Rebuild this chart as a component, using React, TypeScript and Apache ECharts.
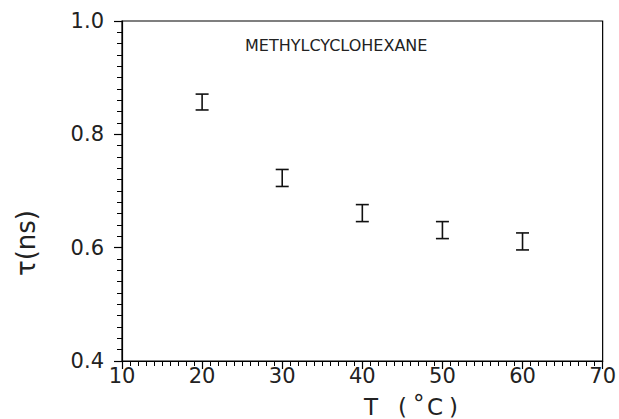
import React, { useEffect, useRef } from "react";
import * as echarts from "echarts";

const temps = [20, 30, 40, 50, 60];
const tau = [0.857, 0.723, 0.661, 0.631, 0.611];
const err = [0.014, 0.015, 0.015, 0.015, 0.015];
const title = "METHYLCYCLOHEXANE";

export default function App() {
  const ref = useRef<HTMLDivElement>(null);
  useEffect(() => {
    if (!ref.current) return;
    const chart = echarts.init(ref.current, null, { renderer: "svg" });
    const data = temps.map((t, i) => [t, tau[i], tau[i] - err[i], tau[i] + err[i]]);
    const font = "DejaVu Sans";
    const ink = "#222";
    chart.setOption({
      animation: false,
      backgroundColor: "#fff",
      grid: {
        left: 122, right: 13, top: 21, bottom: 58,
        show: true, borderColor: "#000", borderWidth: 1.2, backgroundColor: "transparent",
      },
      xAxis: {
        type: "value", min: 10, max: 70, interval: 10,
        axisLine: { lineStyle: { color: "#000", width: 1.2 } },
        axisTick: { show: true, length: 8, lineStyle: { color: "#000", width: 1.2 } },
        minorTick: { show: true, splitNumber: 10, length: 5, lineStyle: { color: "#000", width: 1 } },
        splitLine: { show: false },
        axisLabel: { color: ink, fontFamily: font, fontSize: 21, margin: 4 },
      },
      yAxis: {
        type: "value", min: 0.4, max: 1.0, interval: 0.2,
        axisLine: { lineStyle: { color: "#000", width: 1.2 } },
        axisTick: { show: true, length: 8, lineStyle: { color: "#000", width: 1.2 } },
        minorTick: { show: true, splitNumber: 10, length: 5, lineStyle: { color: "#000", width: 1 } },
        splitLine: { show: false },
        axisLabel: {
          color: ink, fontFamily: font, fontSize: 21, margin: 18,
          formatter: (v: number) => v.toFixed(1),
        },
      },
      graphic: [
        { type: "text", left: 245, top: 37, style: { text: title, font: `16px "${font}"`, fill: ink } },
        {
          type: "text", x: 26, y: 243, rotation: Math.PI / 2,
          style: { text: "τ(ns)", font: `26px "${font}"`, fill: ink, align: "center", verticalAlign: "middle" },
        },
        { type: "text", x: 364, y: 395, style: { text: "T", font: `23px "${font}"`, fill: ink } },
        { type: "text", x: 398, y: 395, style: { text: "(", font: `23px "${font}"`, fill: ink } },
        { type: "text", x: 413, y: 391, style: { text: "°", font: `23px "${font}"`, fill: ink } },
        { type: "text", x: 427, y: 395, style: { text: "C", font: `23px "${font}"`, fill: ink } },
        { type: "text", x: 449, y: 395, style: { text: ")", font: `23px "${font}"`, fill: ink } },
      ],
      series: [
        {
          type: "custom",
          data,
          encode: { x: 0, y: [1, 2, 3] },
          renderItem: (params: any, api: any) => {
            const x = api.value(0);
            const pLo = api.coord([x, api.value(2)]);
            const pHi = api.coord([x, api.value(3)]);
            const hw = 6.5;
            const style = { stroke: "#111", lineWidth: 1.6 };
            return {
              type: "group",
              children: [
                { type: "line", shape: { x1: pLo[0], y1: pLo[1], x2: pHi[0], y2: pHi[1] }, style },
                { type: "line", shape: { x1: pLo[0] - hw, y1: pLo[1], x2: pLo[0] + hw, y2: pLo[1] }, style },
                { type: "line", shape: { x1: pHi[0] - hw, y1: pHi[1], x2: pHi[0] + hw, y2: pHi[1] }, style },
              ],
            };
          },
        },
      ],
    });
    return () => chart.dispose();
  }, []);
  return <div ref={ref} style={{ position: "fixed", left: 0, top: 0, width: 619, height: 419 }} />;
}
